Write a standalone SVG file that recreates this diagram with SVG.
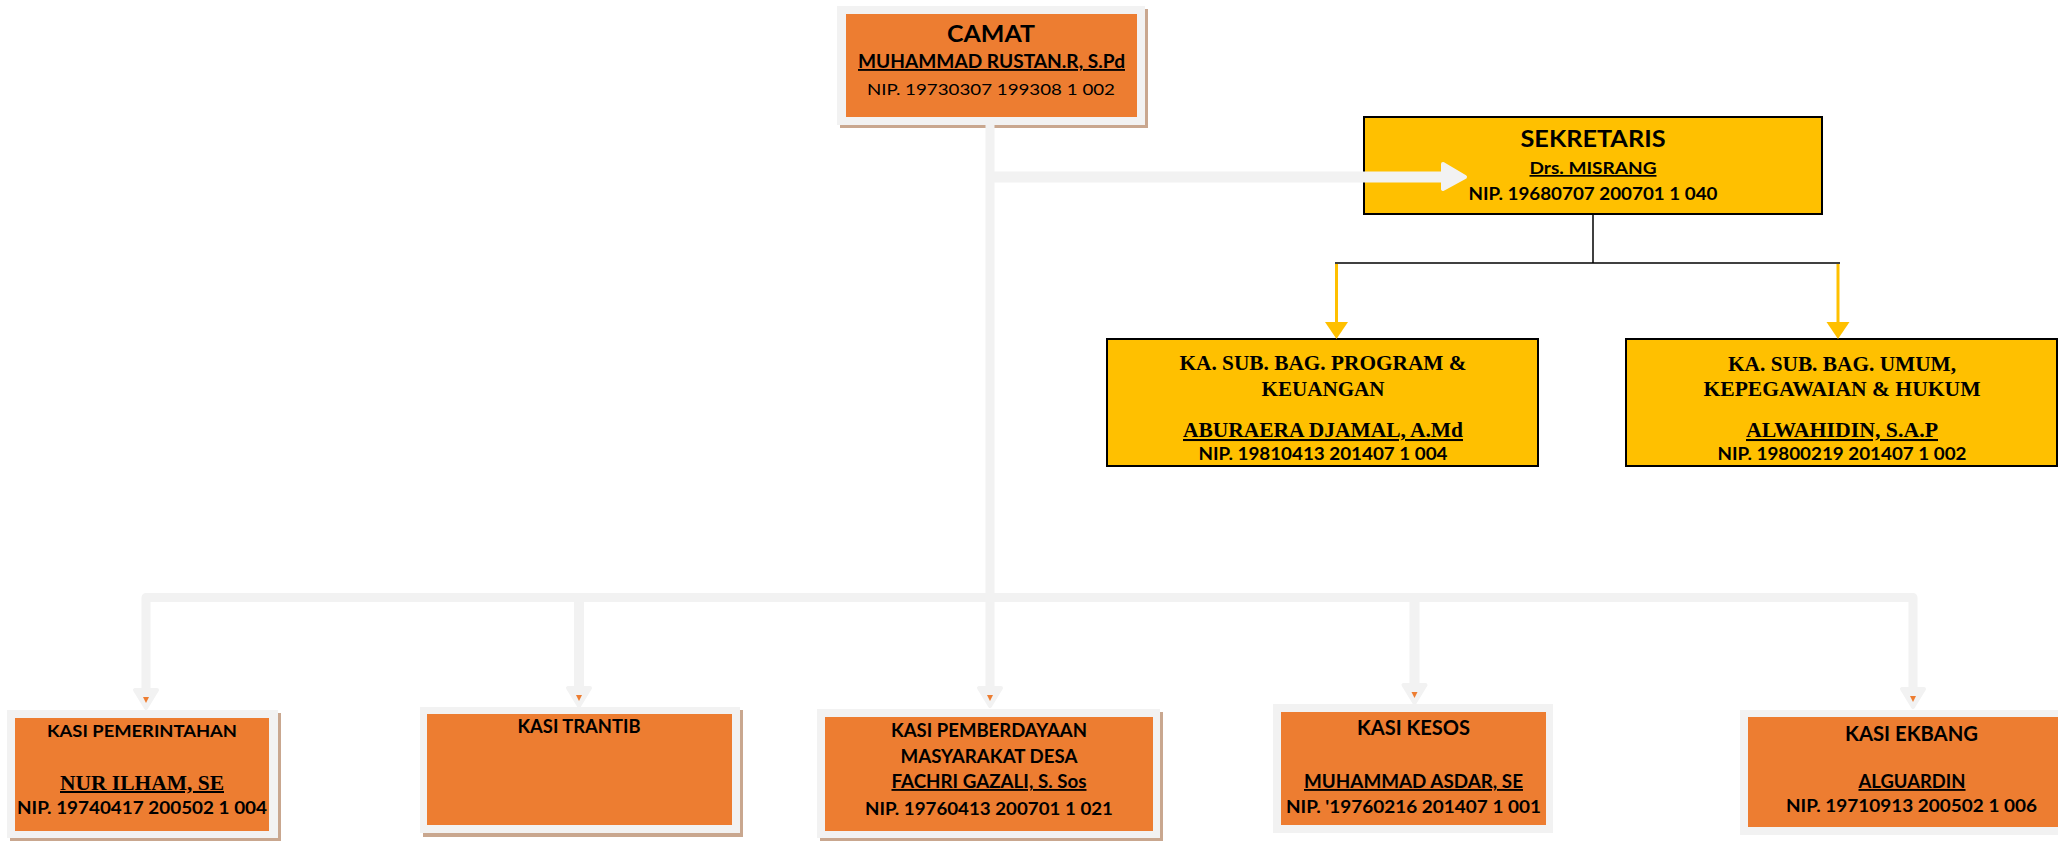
<svg xmlns="http://www.w3.org/2000/svg" xmlns:xlink="http://www.w3.org/1999/xlink" width="2058" height="841" viewBox="0 0 2058 841">
<style>
.sans{font-family:Lato,"Liberation Sans",sans-serif;font-weight:bold;fill:#000}
.reg{font-family:Lato,"Liberation Sans",sans-serif;font-weight:normal;fill:#000}
.serif{font-family:"Liberation Serif","Times New Roman",serif;font-weight:bold;fill:#000}
.u{text-decoration:underline}
.frame{fill:#F2F2F2}
.shadow{fill:#C9A78F}
.org{fill:#ED7D31}
.yel{fill:#FFC000;stroke:#000;stroke-width:2}
.gline{stroke:#F2F2F2;fill:none;stroke-linejoin:round}
</style>
<defs>
<g id="ah">
<polygon points="-11,2 11,2 0,20" fill="#F2F2F2" stroke="#F2F2F2" stroke-width="4" stroke-linejoin="round"/>
<polygon points="-3,9 3,9 0,15" fill="#ED7D31"/>
</g>
</defs>
<rect width="2058" height="841" fill="#FFFFFF"/>

<g id="camat">
<rect class="shadow" x="840" y="9" width="308" height="119"/>
<rect class="frame" x="837" y="6" width="308" height="119"/>
<rect class="org" x="846" y="14" width="291" height="103"/>
<text class="sans" x="991" y="42" font-size="23" text-anchor="middle" textLength="88" lengthAdjust="spacingAndGlyphs">CAMAT</text>
<text class="sans u" x="991.5" y="68" font-size="18.5" text-anchor="middle" textLength="267" lengthAdjust="spacingAndGlyphs">MUHAMMAD RUSTAN.R, S.Pd</text>
<text class="reg" x="991" y="95" font-size="16" text-anchor="middle" textLength="248" lengthAdjust="spacingAndGlyphs">NIP. 19730307 199308 1 002</text>
</g>

<g id="sekretaris">
<rect class="yel" x="1364" y="117" width="458" height="97"/>
<text class="sans" x="1593" y="147" font-size="23" text-anchor="middle" textLength="145" lengthAdjust="spacingAndGlyphs">SEKRETARIS</text>
<text class="sans u" x="1593" y="174" font-size="17" text-anchor="middle" textLength="127" lengthAdjust="spacingAndGlyphs">Drs. MISRANG</text>
<text class="sans" x="1593" y="200" font-size="16.5" text-anchor="middle" textLength="249" lengthAdjust="spacingAndGlyphs">NIP. 19680707 200701 1 040</text>
</g>

<g id="kasubag-program">
<rect class="yel" x="1107" y="339" width="431" height="127"/>
<text class="serif" x="1323" y="370" font-size="20" text-anchor="middle" textLength="287" lengthAdjust="spacingAndGlyphs">KA. SUB. BAG. PROGRAM &amp;</text>
<text class="serif" x="1323" y="396" font-size="20" text-anchor="middle" textLength="123" lengthAdjust="spacingAndGlyphs">KEUANGAN</text>
<text class="serif u" x="1323" y="437" font-size="20.5" text-anchor="middle" textLength="280" lengthAdjust="spacingAndGlyphs">ABURAERA DJAMAL, A.Md</text>
<text class="sans" x="1323" y="460" font-size="16.5" text-anchor="middle" textLength="249" lengthAdjust="spacingAndGlyphs">NIP. 19810413 201407 1 004</text>
</g>

<g id="kasubag-umum">
<rect class="yel" x="1626" y="339" width="431" height="127"/>
<text class="serif" x="1842" y="371" font-size="20" text-anchor="middle" textLength="228" lengthAdjust="spacingAndGlyphs">KA. SUB. BAG. UMUM,</text>
<text class="serif" x="1842" y="396" font-size="20" text-anchor="middle" textLength="277" lengthAdjust="spacingAndGlyphs">KEPEGAWAIAN &amp; HUKUM</text>
<text class="serif u" x="1842" y="437" font-size="20.5" text-anchor="middle" textLength="192" lengthAdjust="spacingAndGlyphs">ALWAHIDIN, S.A.P</text>
<text class="sans" x="1842" y="460" font-size="16.5" text-anchor="middle" textLength="249" lengthAdjust="spacingAndGlyphs">NIP. 19800219 201407 1 002</text>
</g>

<g id="kasi-pemerintahan">
<rect class="shadow" x="10" y="713" width="271" height="128"/>
<rect class="frame" x="7" y="710" width="271" height="128"/>
<rect class="org" x="15" y="718" width="254" height="113"/>
<text class="sans" x="142" y="737" font-size="17" text-anchor="middle" textLength="190" lengthAdjust="spacingAndGlyphs">KASI PEMERINTAHAN</text>
<text class="serif u" x="142" y="790" font-size="20" text-anchor="middle" textLength="164" lengthAdjust="spacingAndGlyphs">NUR ILHAM, SE</text>
<text class="sans" x="142" y="814" font-size="16.5" text-anchor="middle" textLength="250" lengthAdjust="spacingAndGlyphs">NIP. 19740417 200502 1 004</text>
</g>

<g id="kasi-trantib">
<rect class="shadow" x="423" y="710" width="320" height="127"/>
<rect class="frame" x="420" y="707" width="320" height="126"/>
<rect class="org" x="427" y="714" width="305" height="111"/>
<text class="sans" x="579" y="733" font-size="18" text-anchor="middle" textLength="123" lengthAdjust="spacingAndGlyphs">KASI TRANTIB</text>
</g>

<g id="kasi-pmd">
<rect class="shadow" x="820" y="712" width="343" height="129"/>
<rect class="frame" x="817" y="709" width="343" height="129"/>
<rect class="org" x="825" y="717" width="328" height="114"/>
<text class="sans" x="989" y="737" font-size="18.5" text-anchor="middle" textLength="196" lengthAdjust="spacingAndGlyphs">KASI PEMBERDAYAAN</text>
<text class="sans" x="989" y="763" font-size="18.5" text-anchor="middle" textLength="177" lengthAdjust="spacingAndGlyphs">MASYARAKAT DESA</text>
<text class="sans u" x="989" y="788" font-size="18.5" text-anchor="middle" textLength="195" lengthAdjust="spacingAndGlyphs">FACHRI GAZALI, S. Sos</text>
<text class="sans" x="989" y="815" font-size="16.5" text-anchor="middle" textLength="248" lengthAdjust="spacingAndGlyphs">NIP. 19760413 200701 1 021</text>
</g>

<g id="kasi-kesos">
<rect class="frame" x="1273" y="704" width="280" height="129"/>
<rect class="org" x="1281" y="712" width="265" height="113"/>
<text class="sans" x="1413.5" y="735" font-size="21" text-anchor="middle" textLength="113" lengthAdjust="spacingAndGlyphs">KASI KESOS</text>
<text class="sans u" x="1413.5" y="788" font-size="18.5" text-anchor="middle" textLength="219" lengthAdjust="spacingAndGlyphs">MUHAMMAD ASDAR, SE</text>
<text class="sans" x="1413.5" y="813" font-size="16.5" text-anchor="middle" textLength="255" lengthAdjust="spacingAndGlyphs">NIP. '19760216 201407 1 001</text>
</g>

<g id="kasi-ekbang">
<rect class="frame" x="1740" y="710" width="340" height="125"/>
<rect class="org" x="1748" y="717" width="330" height="110"/>
<text class="sans" x="1911.5" y="741" font-size="21" text-anchor="middle" textLength="133" lengthAdjust="spacingAndGlyphs">KASI EKBANG</text>
<text class="sans u" x="1912" y="788" font-size="18.5" text-anchor="middle" textLength="107" lengthAdjust="spacingAndGlyphs">ALGUARDIN</text>
<text class="sans" x="1911.5" y="812" font-size="16.5" text-anchor="middle" textLength="251" lengthAdjust="spacingAndGlyphs">NIP.  19710913 200502 1 006</text>
</g>

<g id="connectors">
<line class="gline" x1="990" y1="125" x2="990" y2="690" stroke-width="9"/>
<line class="gline" x1="990" y1="177" x2="1444" y2="177" stroke-width="11"/>
<polygon points="1443,164 1465,177 1443,189" fill="#F2F2F2" stroke="#F2F2F2" stroke-width="4" stroke-linejoin="round"/>
<path class="gline" d="M146,692 L146,597.5 L1913,597.5 L1913,690" stroke-width="9"/>
<line class="gline" x1="579" y1="597" x2="579" y2="690" stroke-width="10"/>
<line class="gline" x1="1414.5" y1="597" x2="1414.5" y2="687" stroke-width="10"/>
<use xlink:href="#ah" x="146" y="688"/>
<use xlink:href="#ah" x="579" y="686"/>
<use xlink:href="#ah" x="990" y="686"/>
<use xlink:href="#ah" x="1414.5" y="683"/>
<use xlink:href="#ah" x="1913" y="687"/>
<line x1="1593" y1="214" x2="1593" y2="263" stroke="#000" stroke-width="1.5"/>
<line x1="1335" y1="263" x2="1840" y2="263" stroke="#000" stroke-width="1.5"/>
<line x1="1336.5" y1="264" x2="1336.5" y2="324" stroke="#FFC000" stroke-width="3"/>
<polygon points="1325,322 1348,322 1336.5,339" fill="#FFC000"/>
<line x1="1838" y1="264" x2="1838" y2="324" stroke="#FFC000" stroke-width="3"/>
<polygon points="1826.5,322 1849.5,322 1838,339" fill="#FFC000"/>
</g>
</svg>
